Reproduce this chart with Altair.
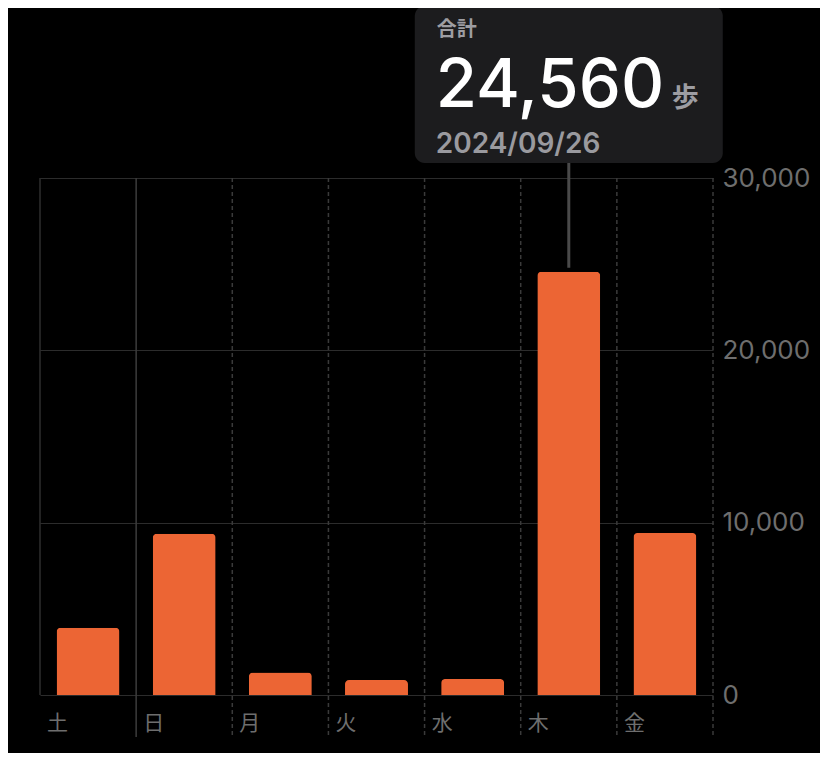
import altair as alt
import pandas as pd

days = ["土", "日", "月", "火", "水", "木", "金"]
steps = [3900, 9350, 1300, 870, 930, 24560, 9400]
dates = ["2024/09/21", "2024/09/22", "2024/09/23", "2024/09/24",
         "2024/09/25", "2024/09/26", "2024/09/27"]
y_ticks = [0, 10000, 20000, 30000]
selected = "木"
total_label = "合計"
unit_label = "歩"

df = pd.DataFrame({"day": days, "steps": steps, "date": dates})

FONT = "Inter, 'Noto Sans CJK JP', 'Noto Sans'"
W, H = 673, 517

xscale = alt.Scale(domain=days, paddingInner=0, paddingOuter=0)
yscale = alt.Scale(domain=[0, 30000], nice=False)

yaxis = alt.Axis(orient="right", values=y_ticks, format=",.0f", grid=True,
                 gridColor="#2c2c2c", gridWidth=1.2, domain=False,
                 ticks=False, labelColor="#6e6e6e", labelFontSize=26,
                 labelFont=FONT, labelPadding=9, labelBaseline="middle")

X = alt.X("day:N", sort=days, scale=xscale, title=None)
Y = alt.Y("steps:Q", scale=yscale, title=None, axis=yaxis)

base = alt.Chart(df)

# left edge (solid, plot height only)
left_edge = base.transform_filter(alt.datum.day == days[0]).mark_rule(
    color="#3a3a3a", strokeWidth=1.2
).encode(x=alt.X("day:N", sort=days, scale=xscale, bandPosition=0, title=None))

# band boundaries extending below axis
bounds = base.transform_filter(alt.datum.day != days[0]).mark_rule(
    strokeWidth=1.5
).encode(
    x=alt.X("day:N", sort=days, scale=xscale, bandPosition=0, title=None),
    y=alt.value(0),
    y2=alt.value(559),
    color=alt.condition(alt.datum.day == days[1], alt.value("#3c3c3c"), alt.value("#3a3a3a")),
    strokeDash=alt.condition(alt.datum.day == days[1], alt.value([1, 0]), alt.value([4, 3])),
)

right_edge = base.transform_filter(alt.datum.day == days[-1]).mark_rule(
    strokeWidth=1.5, color="#3a3a3a", strokeDash=[4, 3]
).encode(
    x=alt.X("day:N", sort=days, scale=xscale, bandPosition=1, title=None),
    y=alt.value(0),
    y2=alt.value(559),
)

bars = base.mark_bar(
    color="#EC6534", width=alt.RelativeBandSize(0.655),
    cornerRadiusTopLeft=4, cornerRadiusTopRight=4
).encode(x=X, y=Y)

sel = base.transform_filter(alt.datum.day == selected)

connector = sel.mark_rule(color="#4a4a4a", strokeWidth=3, yOffset=-4).encode(
    x=X, y=Y, y2=alt.value(-15)
)

box = sel.mark_bar(width=308, color="#1c1c1e", cornerRadius=10).encode(
    x=X, y=alt.value(-172), y2=alt.value(-15)
)

t_total = sel.mark_text(align="left", baseline="alphabetic", dx=-132,
                        font=FONT, fontSize=20, fontWeight="bold",
                        color="#9d9da2").encode(
    x=X, y=alt.value(-142), text=alt.value(total_label))

t_value = sel.mark_text(align="left", baseline="alphabetic", dx=-133,
                        font=FONT, fontSize=67, fontWeight=500,
                        color="#ffffff").encode(
    x=X, y=alt.value(-71), text=alt.Text("steps:Q", format=",.0f"))

t_unit = sel.mark_text(align="left", baseline="alphabetic", dx=103,
                       font=FONT, fontSize=27, fontWeight="bold",
                       color="#9d9da2").encode(
    x=X, y=alt.value(-71), text=alt.value(unit_label))

t_date = sel.mark_text(align="left", baseline="alphabetic", dx=-133,
                       font=FONT, fontSize=28, fontWeight=600,
                       color="#9a9a9f").encode(
    x=X, y=alt.value(-25), text="date:N")

chart = alt.layer(
    bars, left_edge, bounds, right_edge, connector, box, t_total, t_value, t_unit, t_date
).properties(
    width=W, height=H,
    padding={"left": 32, "top": 170, "right": 107, "bottom": 58},
    autosize="none",
    background="#000000",
).configure_view(stroke=None).configure_axisX(
    labelAlign="left", labelOffset=-41, labelPadding=17,
    labelFontSize=21, labelColor="#6e6e6e", labelFont=FONT, labelAngle=0,
    ticks=False, domain=False, grid=False,
)

chart.save("out.html", embed_options={"renderer": "svg", "actions": False})
